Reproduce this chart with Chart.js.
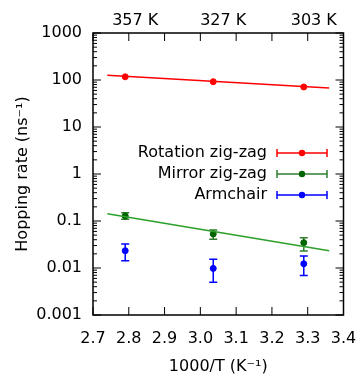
<!DOCTYPE html>
<html>
<head>
<meta charset="utf-8">
<script src="https://cdn.jsdelivr.net/npm/chart.js@4"></script>
<style>
  body { margin: 0; background: #fff; }
  #wrap { width: 359px; height: 375px; }
</style>
</head>
<body>
<div id="wrap"><canvas id="myChart"></canvas></div>
<script>
// data
const xVals = [2.79, 3.036, 3.289];
const topLabels = ['357 K', '327 K', '303 K'];
const xTicks = [2.7, 2.8, 2.9, 3.0, 3.1, 3.2, 3.3, 3.4];
const yTicks = [0.001, 0.01, 0.1, 1, 10, 100, 1000];

const rotY = [117, 92, 71];
const mirY = [0.128, 0.053, 0.0346];
const mirLo = [0.109, 0.041, 0.023];
const mirHi = [0.15, 0.064, 0.044];
const armY = [0.0233, 0.0098, 0.0123];
const armLo = [0.0143, 0.005, 0.0069];
const armHi = [0.0324, 0.0153, 0.018];

const fitX = [2.74, 3.36];
const rotFit = [126, 67.6];
const mirFit = [0.143, 0.0233];

const FONT = 'DejaVu Sans';

function pts(xs, ys) {
    return xs.map((x, i) => ({ x: x, y: ys[i] }));
}

const datasets = [
    { type: 'line', label: 'rotFit', data: pts(fitX, rotFit), borderColor: '#ff0000', borderWidth: 1.5, pointRadius: 0 },
    { type: 'line', label: 'mirFit', data: pts(fitX, mirFit), borderColor: '#2ca02c', borderWidth: 1.5, pointRadius: 0 },
    { label: 'Rotation zig-zag', data: pts(xVals, rotY), backgroundColor: '#ff0000', borderColor: '#ff0000', pointRadius: 3, legend: true },
    { label: 'Mirror zig-zag', data: pts(xVals, mirY), backgroundColor: '#006400', borderColor: '#006400', pointRadius: 3, lo: mirLo, hi: mirHi, barColor: '#2f7f2f', legend: true },
    { label: 'Armchair', data: pts(xVals, armY), backgroundColor: '#0000ff', borderColor: '#0000ff', pointRadius: 3, lo: armLo, hi: armHi, barColor: '#0000ff', legend: true }
];

// error bars, frame, inward ticks and the legend
const extras = {
    id: 'extras',
    beforeDatasetsDraw(chart) {
        const c = chart.ctx, xs = chart.scales.x, ys = chart.scales.y;
        chart.data.datasets.forEach(ds => {
            if (!ds.lo) return;
            c.save();
            c.strokeStyle = ds.barColor;
            c.lineWidth = 1.5;
            ds.data.forEach((p, i) => {
                const px = xs.getPixelForValue(p.x);
                const y1 = ys.getPixelForValue(ds.lo[i]);
                const y2 = ys.getPixelForValue(ds.hi[i]);
                c.beginPath();
                c.moveTo(px, y1); c.lineTo(px, y2);
                c.moveTo(px - 4, y1); c.lineTo(px + 4, y1);
                c.moveTo(px - 4, y2); c.lineTo(px + 4, y2);
                c.stroke();
            });
            c.restore();
        });
    },
    afterDraw(chart) {
        const c = chart.ctx, a = chart.chartArea, xs = chart.scales.x, ys = chart.scales.y;
        c.save();
        c.strokeStyle = '#000';
        c.lineWidth = 1;
        c.beginPath();
        xTicks.forEach(v => {
            const px = xs.getPixelForValue(v);
            c.moveTo(px, a.bottom); c.lineTo(px, a.bottom - 8);
            c.moveTo(px, a.top); c.lineTo(px, a.top + 8);
        });
        yTicks.forEach((v, k) => {
            const py = ys.getPixelForValue(v);
            c.moveTo(a.left, py); c.lineTo(a.left + 8, py);
            c.moveTo(a.right, py); c.lineTo(a.right - 8, py);
            if (k < yTicks.length - 1) {
                for (let m = 2; m <= 9; m++) {
                    const pm = ys.getPixelForValue(v * m);
                    c.moveTo(a.left, pm); c.lineTo(a.left + 4, pm);
                    c.moveTo(a.right, pm); c.lineTo(a.right - 4, pm);
                }
            }
        });
        c.stroke();
        c.lineWidth = 1.5;
        c.strokeRect(a.left, a.top, a.right - a.left, a.bottom - a.top);

        // legend
        c.font = '16px "' + FONT + '"';
        c.textAlign = 'right';
        c.textBaseline = 'middle';
        let row = 0;
        chart.data.datasets.forEach(ds => {
            if (!ds.legend) return;
            const y = 153 + row * 21;
            c.fillStyle = '#000';
            c.fillText(ds.label, 267, y);
            const col = ds.barColor || ds.borderColor;
            c.strokeStyle = col;
            c.lineWidth = 1.5;
            c.beginPath();
            c.moveTo(277, y); c.lineTo(327, y);
            c.moveTo(277, y - 4); c.lineTo(277, y + 4);
            c.moveTo(327, y - 4); c.lineTo(327, y + 4);
            c.stroke();
            c.fillStyle = ds.backgroundColor;
            c.beginPath();
            c.arc(302, y, 3.2, 0, Math.PI * 2);
            c.fill();
            row++;
        });
        c.restore();
    }
};

const tickFont = { family: FONT, size: 16 };

function noSidePad(s) {
    s.paddingLeft = 0;
    s.paddingRight = 0;
}

const ctx = document.getElementById('myChart').getContext('2d');
const myChart = new Chart(ctx, {
    type: 'scatter',
    data: { datasets: datasets },
    options: {
        responsive: true,
        maintainAspectRatio: false,
        animation: false,
        layout: { padding: { left: 0, right: 15.5, top: 0, bottom: 0 } },
        plugins: { legend: { display: false }, tooltip: { enabled: false } },
        scales: {
            x: {
                type: 'linear', position: 'bottom', min: 2.7, max: 3.4,
                afterBuildTicks: s => { s.ticks = xTicks.map(v => ({ value: v })); },
                afterFit: s => { s.height = 60; noSidePad(s); },
                ticks: { font: tickFont, color: '#000', padding: 14, maxRotation: 0,
                         callback: v => v.toFixed(1) },
                grid: { display: false, drawTicks: false },
                border: { display: false },
                title: { display: true, text: '1000/T (K⁻¹)', color: '#000',
                         font: { family: FONT, size: 16, lineHeight: 1 }, padding: 0 }
            },
            x2: {
                type: 'linear', position: 'top', min: 2.7, max: 3.4,
                afterBuildTicks: s => { s.ticks = xVals.map(v => ({ value: v })); },
                afterFit: s => { s.height = 33; noSidePad(s); },
                ticks: { font: tickFont, color: '#000', padding: 3, labelOffset: 10, maxRotation: 0,
                         callback: (v, i) => topLabels[i] },
                grid: { display: false, drawTicks: false },
                border: { display: false }
            },
            y: {
                type: 'logarithmic', min: 0.001, max: 1000,
                afterBuildTicks: s => { s.ticks = yTicks.map(v => ({ value: v })); },
                afterFit: s => { s.width = 93; },
                ticks: { font: tickFont, color: '#000', padding: 11,
                         callback: v => String(v) },
                grid: { display: false, drawTicks: false },
                border: { display: false },
                title: { display: true, text: 'Hopping rate (ns⁻¹)', color: '#000',
                         font: { family: FONT, size: 16, lineHeight: 1.2 }, padding: { top: 13, bottom: 0 } }
            }
        }
    },
    plugins: [extras]
});
</script>
</body>
</html>
